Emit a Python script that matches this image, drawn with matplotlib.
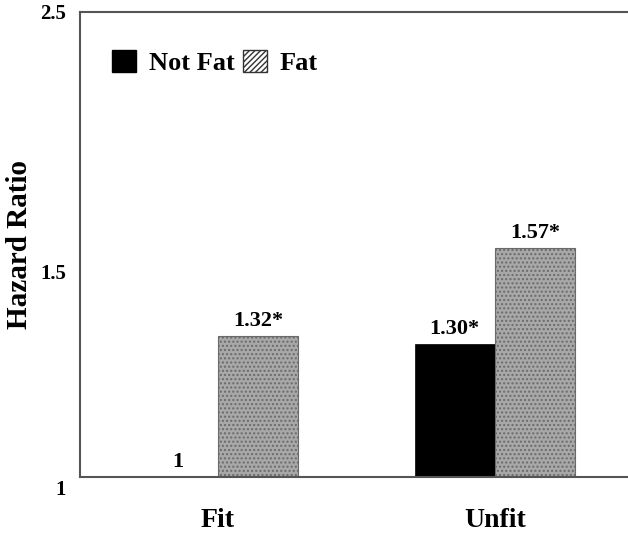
import numpy as np
import matplotlib.pyplot as plt
from matplotlib.patches import Patch
from matplotlib.ticker import NullLocator
from matplotlib.transforms import ScaledTranslation

# Data
groups = ["Fit", "Unfit"]
not_fat = [1.00, 1.30]
fat = [1.32, 1.57]
not_fat_labels = ["1", "1.30*"]
fat_labels = ["1.32*", "1.57*"]
ytick_vals = [1, 1.5, 2.5]
ytick_text = ["1", "1.5", "2.5"]

plt.rcParams["font.family"] = ["Liberation Serif", "DejaVu Serif"]
plt.rcParams["font.weight"] = "bold"

fig = plt.figure(figsize=(6.28, 5.33), dpi=100)
ax = fig.add_axes([0.127, 0.105, 0.873, 0.8725])

x = np.arange(len(groups))
w = 0.29
base = 1.0

ax.bar(x - w / 2, np.array(not_fat) - base, w, bottom=base,
       color="black", edgecolor="black", linewidth=0.5)
ax.bar(x + w / 2, np.array(fat) - base, w, bottom=base,
       color="#a8a8a8", edgecolor="#6a6a6a", hatch="....", linewidth=0.8)

for xi, v, t in zip(x - w / 2, not_fat, not_fat_labels):
    ax.text(xi, v * 1.01, t, ha="center", va="bottom", fontsize=16, fontweight="bold")
for xi, v, t in zip(x + w / 2, fat, fat_labels):
    ax.text(xi, v * 1.01, t, ha="center", va="bottom", fontsize=16, fontweight="bold")

ax.set_yscale("log")
ax.set_ylim(1, 2.5)
ax.set_xlim(-0.498, 1.48)
ax.yaxis.set_minor_locator(NullLocator())
ax.set_yticks(ytick_vals)
ax.set_yticklabels(ytick_text, fontsize=15, fontweight="bold")
ax.set_xticks(x)
ax.set_xticklabels(groups, fontsize=20, fontweight="bold")
ax.tick_params(axis="both", length=0)
ax.tick_params(axis="x", pad=22)
ax.tick_params(axis="y", pad=10)

# the "1" label sits a little below the axis line in the original
lab0 = ax.yaxis.get_major_ticks()[0].label1
lab0.set_transform(lab0.get_transform() + ScaledTranslation(0, -0.1, fig.dpi_scale_trans))

ax.set_ylabel("Hazard Ratio", fontsize=21, fontweight="bold")
ax.yaxis.set_label_coords(-0.086, 0.5)

for s in ["left", "bottom", "top"]:
    ax.spines[s].set_color("#555555")
    ax.spines[s].set_linewidth(1.5)
ax.spines["right"].set_visible(False)

handles = [Patch(facecolor="black", edgecolor="black"),
           Patch(facecolor="white", edgecolor="#333333", hatch="//////")]
ax.legend(handles, ["Not Fat", "Fat"], loc="upper left", bbox_to_anchor=(0.016, 0.969),
          ncol=2, frameon=False, handlelength=0.9, handleheight=0.9,
          handletextpad=0.5, columnspacing=0.3, prop={"weight": "bold", "size": 19})

fig.savefig("out.png", dpi=100)
